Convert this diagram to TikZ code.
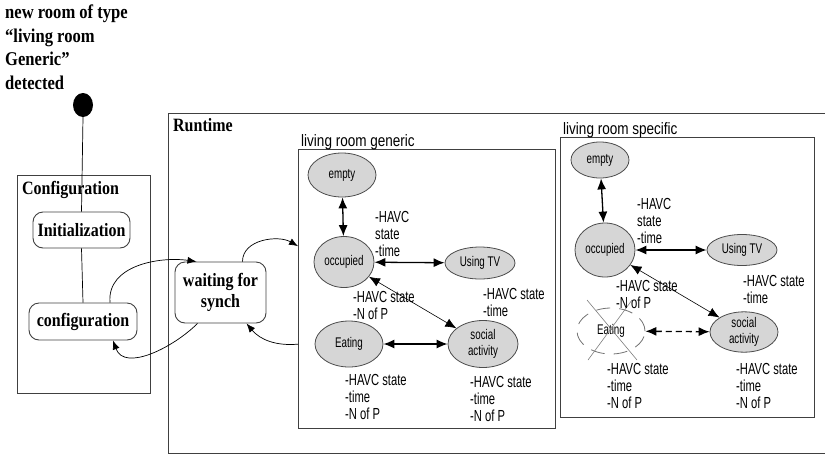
\documentclass[tikz,border=0pt]{standalone}
\usepackage{fontspec}
\setmainfont[FakeStretch=0.85]{Liberation Serif}
\newfontfamily\nsans[FakeStretch=0.7]{Liberation Sans}
\newfontfamily\tsans[FakeStretch=0.82]{Liberation Sans}
\usetikzlibrary{shapes.geometric,arrows.meta,calc}
\begin{document}
\begin{tikzpicture}[x=1pt,y=-1pt,
 box/.style={draw=black!75, line width=1.3pt, inner sep=0pt},
 rbox/.style={draw=black!75, line width=0.9pt, rounded corners=10pt, inner sep=0pt, font=\bfseries\fontsize{18.8}{21}\selectfont, align=center},
 st/.style={ellipse, draw=black!70, fill=black!16, line width=0.8pt, inner sep=0pt, font=\nsans\fontsize{14}{15.5}\selectfont, align=center},
 lbl/.style={font=\nsans\fontsize{16}{17}\selectfont, align=left, anchor=base west, inner sep=0pt},
 ttl/.style={font=\tsans\fontsize{16.5}{18}\selectfont, anchor=base west, inner sep=0pt},
 hd/.style={font=\bfseries\fontsize{18.8}{21}\selectfont, anchor=base west, inner sep=0pt},
 arr/.style={-{Latex[length=9pt,width=7pt]}, line width=0.7pt},
 dbl/.style={{Latex[length=11pt,width=9pt]}-{Latex[length=11pt,width=9pt]}, line width=1.3pt},
 thin dbl/.style={{Latex[length=11pt,width=9pt]}-{Latex[length=11pt,width=9pt]}, line width=0.6pt},
 plain/.style={line width=0.7pt}
]
\useasboundingbox (0,0) rectangle (825,456);

% heading (base anchor = baseline of last line)
\node[font=\bfseries\fontsize{19.5}{23.4}\selectfont, align=left, anchor=base west, inner sep=0pt] (head) at (5,89)
 {new room of type\\``living room\\Generic''\\detected};
\node[ellipse, fill=black, minimum width=20pt, minimum height=24pt, inner sep=0pt] (dot) at (83,105) {};

% runtime box
\node[box, minimum width=662pt, minimum height=340pt, anchor=north west] (rt) at (168,113) {};
\node[hd] (rtl) at (173,131) {Runtime};

% configuration box
\node[box, minimum width=133pt, minimum height=218pt, anchor=north west] (cf) at (17,175) {};
\node[hd] (cfl) at (22,194) {Configuration};
\node[rbox, minimum width=97pt, minimum height=36pt] (init) at (81.5,230) {Initialization};
\node[rbox, minimum width=108pt, minimum height=37pt] (cfg) at (83,321.5) {configuration};
\node[rbox, minimum width=91pt, minimum height=61pt] (wait) at (220.5,292.5) {waiting for\\synch};

\draw[plain] (dot.south) -- (init.north);
\draw[plain] (init.south) -- (cfg.north);

% living room generic
\node[box, minimum width=257pt, minimum height=279pt, anchor=north west] (gen) at (298,149) {};
\node[ttl] (genl) at (301,146) {living room generic};

\node[st, minimum width=68pt, minimum height=44pt] (ge) at (342,175) {empty};
\node[st, minimum width=60pt, minimum height=51pt] (go) at (344,262) {occupied};
\node[st, minimum width=70pt, minimum height=32pt] (gt) at (480,263) {Using TV};
\node[st, minimum width=68pt, minimum height=46pt] (gea) at (349,344) {Eating};
\node[st, minimum width=70pt, minimum height=47pt] (gs) at (483,344) {social\\activity};

\draw[dbl] (ge) -- (go);
\draw[dbl] (go) -- (gt);
\draw[thin dbl] (go) -- (gs);
\draw[dbl] (gea) -- (gs);

\node[lbl] (g1) at (375,256) {-HAVC\\state\\-time};
\node[lbl] (g2) at (353,319) {-HAVC state\\-N of P};
\node[lbl] (g3) at (483,316) {-HAVC state\\-time};
\node[lbl] (g4) at (345,419) {-HAVC state\\-time\\-N of P};
\node[lbl] (g5) at (470,421) {-HAVC state\\-time\\-N of P};

% living room specific
\node[box, minimum width=254pt, minimum height=280pt, anchor=north west, fill=white] (sp) at (560,137) {};
\node[ttl] (spl) at (563,134) {living room specific};

\node[st, minimum width=58pt, minimum height=36pt] (se) at (600,160) {empty};
\node[st, minimum width=60pt, minimum height=54pt] (so) at (605,250) {occupied};
\node[st, minimum width=70pt, minimum height=31pt] (stv) at (742,250) {Using TV};
\node[st, minimum width=68pt, minimum height=40pt] (ss) at (744,332) {social\\activity};
\node[st, fill=none, draw=black!55, dash pattern=on 14pt off 9pt, minimum width=68pt, minimum height=46pt] (sea) at (611,331) {Eating};
\draw[draw=black!50, line width=0.6pt] ($(sea.center)+(-24,-31)$) -- ($(sea.center)+(26,29)$);
\draw[draw=black!50, line width=0.6pt] ($(sea.center)+(21,-31)$) -- ($(sea.center)+(-23,29)$);

\draw[dbl] (se) -- (so);
\draw[dbl] (so) -- (stv);
\draw[thin dbl] (so) -- (ss);
\draw[dbl, dash pattern=on 6pt off 4pt] (sea) -- (ss);

\node[lbl] (s1) at (637,243) {-HAVC\\state\\-time};
\node[lbl] (s2) at (616,308) {-HAVC state\\-N of P};
\node[lbl] (s3) at (743,303) {-HAVC state\\-time};
\node[lbl] (s4) at (607,408) {-HAVC state\\-time\\-N of P};
\node[lbl] (s5) at (736,408) {-HAVC state\\-time\\-N of P};

% transitions
\draw[arr] ([xshift=27pt]cfg.north) to[out=95,in=172] ([xshift=-24pt]wait.north);
\draw[arr] ([xshift=-23pt]wait.south) to[out=-135,in=-70] ([xshift=30pt]cfg.south);
\draw[arr] ([xshift=22pt]wait.north) to[out=90,in=150] ([yshift=43pt]gen.west);
\draw[arr] ([yshift=-55pt]gen.west) to[out=185,in=-50] ([xshift=26pt]wait.south);
\end{tikzpicture}
\end{document}
